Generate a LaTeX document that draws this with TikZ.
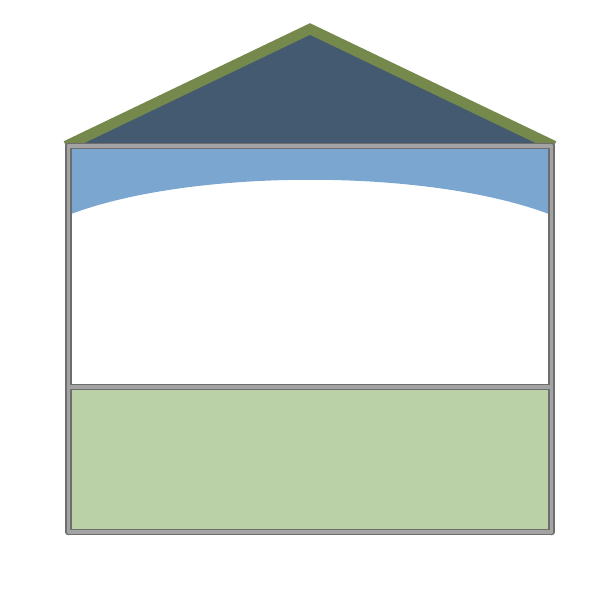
\documentclass[tikz,border=0pt]{standalone}
\definecolor{roofblue}{HTML}{435A70}
\definecolor{roofgreen}{HTML}{76894C}
\definecolor{skyblue}{HTML}{7BA6D0}
\definecolor{soilgreen}{HTML}{BAD0A6}
\definecolor{barlight}{HTML}{A3A3A3}
\definecolor{bardark}{HTML}{6E6E6E}
\tikzset{
  wall/.style={line width=0.13cm,color=bardark,line cap=round},
  wallin/.style={line width=0.07cm,color=barlight,line cap=round},
  roofline/.style={line width=0.21cm,color=roofgreen,line join=miter}
}
\begin{document}
\begin{tikzpicture}[x=0.02cm,y=-0.02cm]
        \useasboundingbox (0,0) rectangle (600,603);
        \coordinate (tl) at (68.5,146);
        \coordinate (tr) at (551.5,146);
        \coordinate (ml) at (68.5,387);
        \coordinate (mr) at (551.5,387);
        \coordinate (bl) at (68.5,532);
        \coordinate (br) at (551.5,532);
        \coordinate (top) at (310,29);
        % blue band and ground
        \fill[skyblue](68.5,146)--(551.5,146)--(551.5,215) .. controls (430,168) and (190,168) .. (68.5,215)--cycle;
        \fill[soilgreen](ml)rectangle(br);
        % roof
        \fill[roofblue](tl)--(top)--(tr)--cycle;
        \draw[roofline](66,146)--(top)--(554,146);
        % frame
        \foreach \a/\b in {tl/bl,tr/br,tl/tr,ml/mr,bl/br} \draw[wall](\a)--(\b);
        \foreach \a/\b in {tl/bl,tr/br,tl/tr,ml/mr,bl/br} \draw[wallin,shift={(-0.6,-0.6)}](\a)--(\b);
    \end{tikzpicture}
\end{document}
